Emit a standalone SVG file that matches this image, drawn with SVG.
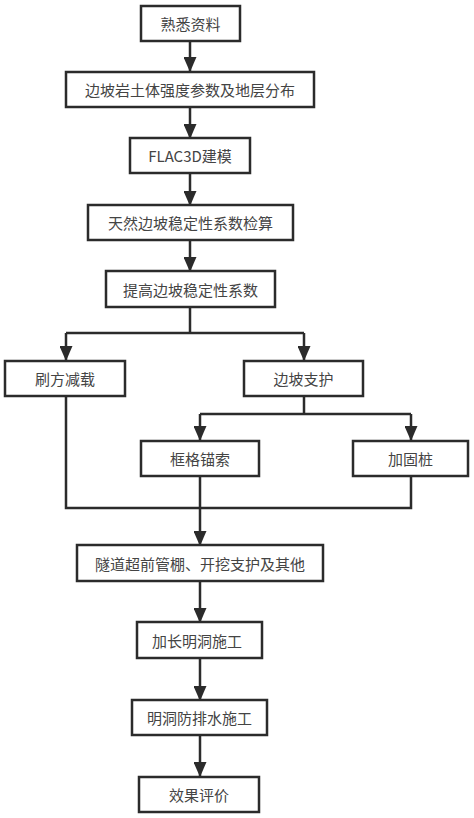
<svg xmlns="http://www.w3.org/2000/svg" width="474" height="818" viewBox="0 0 474 818">
<style>
.box{fill:#fff;stroke:#2b2b2b;stroke-width:2.5}
.t{font-family:"Noto Sans CJK SC","Noto Sans",sans-serif;font-size:15px;fill:#444;text-anchor:middle;dominant-baseline:central}
.c{fill:none;stroke:#2b2b2b;stroke-width:2.5}
</style>
<defs>
<marker id="ah" markerWidth="15" markerHeight="13" refX="14" refY="6.5" orient="auto" markerUnits="userSpaceOnUse" viewBox="0 0 15 13">
<path d="M0,0 L15,6.5 L0,13 Z" fill="#2b2b2b"/>
</marker>
</defs>
<rect width="474" height="818" fill="#fff"/>
<g id="connectors">
<path class="c" d="M190,41 V71" marker-end="url(#ah)"/>
<path class="c" d="M190,107 V138" marker-end="url(#ah)"/>
<path class="c" d="M190,173 V205" marker-end="url(#ah)"/>
<path class="c" d="M190,240 V271" marker-end="url(#ah)"/>
<path class="c" d="M190,307 V333"/>
<path class="c" d="M66,333 H304"/>
<path class="c" d="M66,333 V360" marker-end="url(#ah)"/>
<path class="c" d="M304,333 V360" marker-end="url(#ah)"/>
<path class="c" d="M304,396 V414"/>
<path class="c" d="M200,414 H411"/>
<path class="c" d="M200,414 V440" marker-end="url(#ah)"/>
<path class="c" d="M411,414 V440" marker-end="url(#ah)"/>
<path class="c" d="M66,396 V508 H411 V476"/>
<path class="c" d="M200,476 V508"/>
<path class="c" d="M200,508 V545" marker-end="url(#ah)"/>
<path class="c" d="M200,581 V622" marker-end="url(#ah)"/>
<path class="c" d="M200,658 V700" marker-end="url(#ah)"/>
<path class="c" d="M200,735 V776" marker-end="url(#ah)"/>
</g>
<g id="n1"><rect class="box" x="141" y="6" width="99" height="35"/><text class="t" x="190.5" y="23.5">熟悉资料</text></g>
<g id="n2"><rect class="box" x="66" y="72" width="248" height="35"/><text class="t" x="190" y="89.5">边坡岩土体强度参数及地层分布</text></g>
<g id="n3"><rect class="box" x="130" y="138" width="120" height="35"/><text class="t" x="190" y="155.5">FLAC3D建模</text></g>
<g id="n4"><rect class="box" x="88" y="205" width="205" height="35"/><text class="t" x="190.5" y="222.5">天然边坡稳定性系数检算</text></g>
<g id="n5"><rect class="box" x="106" y="271" width="169" height="36"/><text class="t" x="190.5" y="289">提高边坡稳定性系数</text></g>
<g id="n6"><rect class="box" x="5" y="361" width="120" height="35"/><text class="t" x="65" y="378.5">刷方减载</text></g>
<g id="n7"><rect class="box" x="244" y="361" width="119" height="35"/><text class="t" x="303.5" y="378.5">边坡支护</text></g>
<g id="n8"><rect class="box" x="141" y="441" width="118" height="35"/><text class="t" x="200" y="458.5">框格锚索</text></g>
<g id="n9"><rect class="box" x="353" y="441" width="115" height="35"/><text class="t" x="410.5" y="458.5">加固桩</text></g>
<g id="n10"><rect class="box" x="77" y="545" width="246" height="36"/><text class="t" x="200" y="563">隧道超前管棚、开挖支护及其他</text></g>
<g id="n11"><rect class="box" x="137" y="622" width="125" height="36"/><text class="t" x="197" y="640">加长明洞施工</text></g>
<g id="n12"><rect class="box" x="132" y="700" width="135" height="35"/><text class="t" x="199.5" y="717.5">明洞防排水施工</text></g>
<g id="n13"><rect class="box" x="139" y="777" width="120" height="35"/><text class="t" x="199" y="794.5">效果评价</text></g>
</svg>
